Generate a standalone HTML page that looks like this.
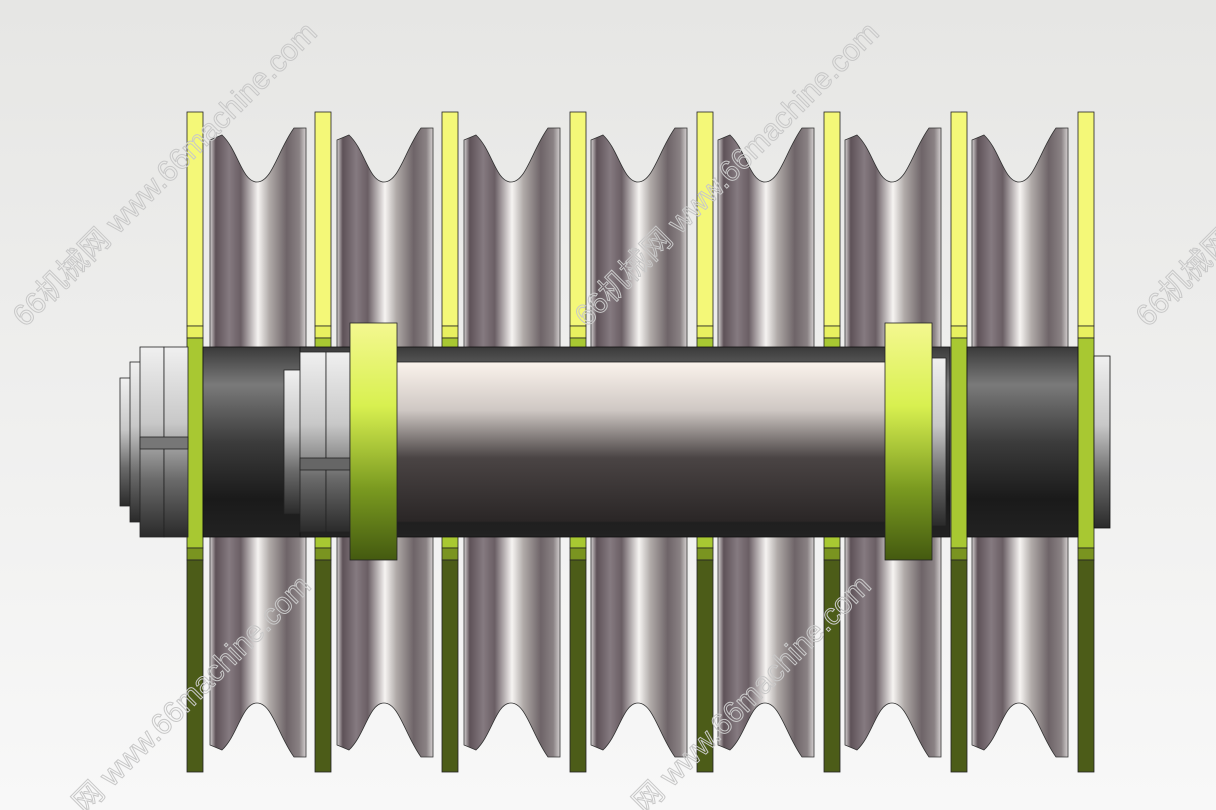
<!DOCTYPE html>
<html><head><meta charset="utf-8"><style>
html,body{margin:0;padding:0;width:1216px;height:810px;overflow:hidden;background:#f0f0ee}
svg{display:block}
.wm{font-family:"Liberation Sans","Noto Sans CJK SC",sans-serif;font-size:30px;fill:none;stroke:#c8c8c8;stroke-width:1}
</style></head><body>
<svg width="1216" height="810" viewBox="0 0 1216 810" xmlns="http://www.w3.org/2000/svg">
<defs>
<linearGradient id="bg" x1="0" y1="0" x2="0" y2="1"><stop offset="0" stop-color="#e6e6e4"/><stop offset="1" stop-color="#f8f8f8"/></linearGradient>
<linearGradient id="sh" x1="0" y1="0" x2="1" y2="0">
<stop offset="0" stop-color="#d8d4d4"/><stop offset=".06" stop-color="#5e5258"/><stop offset=".2" stop-color="#857a80"/><stop offset=".32" stop-color="#6a5e64"/><stop offset=".5" stop-color="#f6f4f2"/><stop offset=".62" stop-color="#b0aaa8"/><stop offset=".8" stop-color="#6e6468"/><stop offset=".93" stop-color="#8a8284"/><stop offset="1" stop-color="#d4d0d0"/></linearGradient>
<linearGradient id="dark" x1="0" y1="0" x2="0" y2="1"><stop offset="0" stop-color="#3a3a3a"/><stop offset=".2" stop-color="#7a7a7a"/><stop offset=".5" stop-color="#3c3c3c"/><stop offset=".8" stop-color="#1a1a1a"/><stop offset="1" stop-color="#222"/></linearGradient>
<linearGradient id="shaft" x1="0" y1="0" x2="0" y2="1"><stop offset="0" stop-color="#fbf3ec"/><stop offset=".3" stop-color="#cfc8c4"/><stop offset=".6" stop-color="#4a4444"/><stop offset="1" stop-color="#2a2626"/></linearGradient>
<linearGradient id="col" x1="0" y1="0" x2="0" y2="1"><stop offset="0" stop-color="#f4f890"/><stop offset=".35" stop-color="#d8f050"/><stop offset=".7" stop-color="#7a9a20"/><stop offset="1" stop-color="#445a10"/></linearGradient>
<linearGradient id="nut" x1="0" y1="0" x2="0" y2="1"><stop offset="0" stop-color="#f0f0f0"/><stop offset=".4" stop-color="#c8c8c8"/><stop offset=".7" stop-color="#6a6a6a"/><stop offset="1" stop-color="#2a2a2a"/></linearGradient>
</defs>
<rect width="1216" height="810" fill="url(#bg)"/>
<g stroke="#333" stroke-width="0.8">
<path id="s0" d="M210,140 L222,135 C238,150 242,182 257,182 C272,182 278,150 294,128 L306,128 L306,757 L294,757 C278,735 272,703 257,703 C242,703 238,735 222,750 L210,745 Z" fill="url(#sh)"/>
<use href="#s0" x="127"/><use href="#s0" x="254"/><use href="#s0" x="381"/><use href="#s0" x="508"/><use href="#s0" x="635"/><use href="#s0" x="762"/>
</g>
<g id="pl" stroke="#222" stroke-width="0.8">
<rect x="187" y="112" width="16" height="214" fill="#f4f878"/>
<rect x="187" y="326" width="16" height="12" fill="#e8f060"/>
<rect x="187" y="338" width="16" height="210" fill="#a8c832"/>
<rect x="187" y="548" width="16" height="12" fill="#7a9420"/>
<rect x="187" y="560" width="16" height="212" fill="#4c5c18"/>
</g>
<use href="#pl" x="128"/><use href="#pl" x="255"/><use href="#pl" x="383"/><use href="#pl" x="510"/><use href="#pl" x="637"/><use href="#pl" x="764"/><use href="#pl" x="891"/>
<g stroke="#111" stroke-width="0.8">
<rect x="203" y="347" width="112" height="190" fill="url(#dark)"/>
<rect x="300" y="347" width="650" height="190" fill="url(#dark)"/>
<rect x="967" y="347" width="111" height="190" fill="url(#dark)"/>
<rect x="1094" y="356" width="16" height="172" fill="url(#nut)"/>
</g>
<g stroke="#222" stroke-width="0.8">
<rect x="120" y="378" width="12" height="128" fill="url(#nut)"/>
<rect x="130" y="362" width="12" height="160" fill="url(#nut)"/>
<rect x="140" y="347" width="24" height="190" fill="url(#nut)"/>
<rect x="164" y="347" width="24" height="190" fill="url(#nut)"/>
<rect x="140" y="437" width="48" height="12" fill="#777"/>
<rect x="284" y="370" width="20" height="144" fill="url(#nut)"/>
<rect x="300" y="352" width="26" height="180" fill="url(#nut)"/>
<rect x="326" y="352" width="24" height="180" fill="url(#nut)"/>
<rect x="300" y="458" width="50" height="12" fill="#666"/>
</g>
<rect x="395" y="362" width="545" height="160" fill="url(#shaft)" stroke="#222" stroke-width="0.8"/>
<rect x="930" y="358" width="16" height="168" fill="url(#nut)" stroke="#222" stroke-width="0.8"/>
<rect x="350" y="323" width="47" height="237" fill="url(#col)" stroke="#222" stroke-width="0.8"/>
<rect x="885" y="323" width="47" height="237" fill="url(#col)" stroke="#222" stroke-width="0.8"/>
<g class="wm">
<text transform="translate(25,328) rotate(-45)">66机械网 www.66machine.com</text>
<text transform="translate(587,328) rotate(-45)">66机械网 www.66machine.com</text>
<text transform="translate(1148,328) rotate(-45)">66机械网</text>
<text transform="translate(85,815) rotate(-45)">网 www.66machine.com</text>
<text transform="translate(645,815) rotate(-45)">网 www.66machine.com</text>
</g>
</svg>
</body></html>
